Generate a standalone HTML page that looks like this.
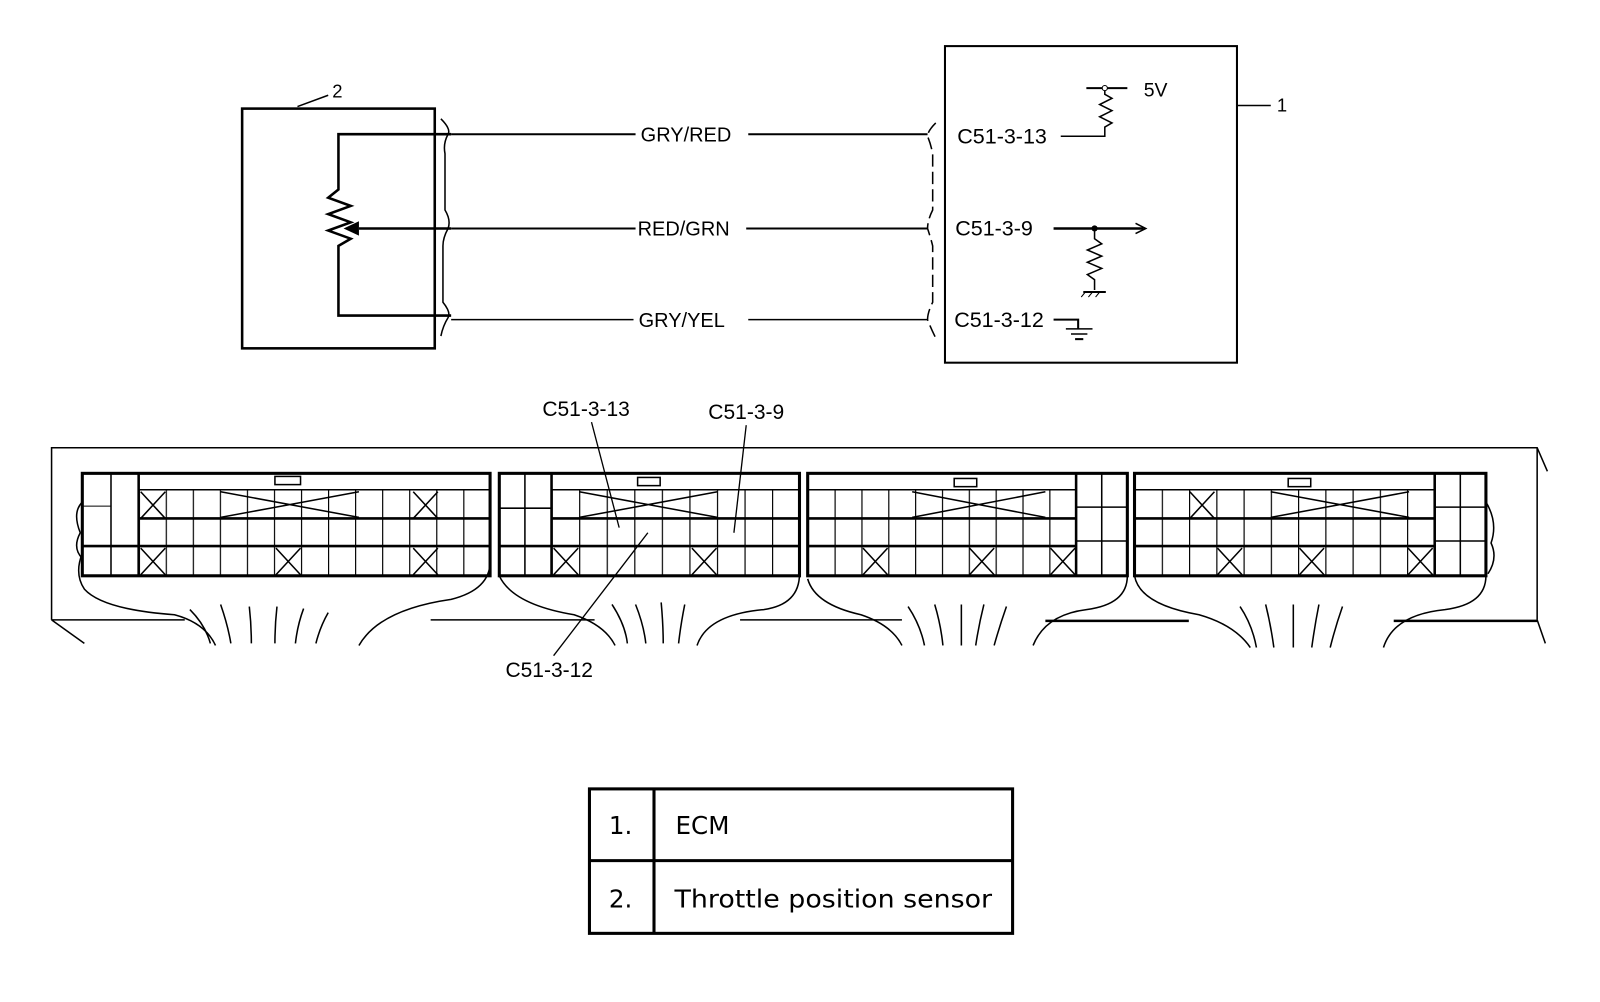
<!DOCTYPE html>
<html><head><meta charset="utf-8"><style>
html,body{margin:0;padding:0;background:#fff;}
svg{display:block;}
text{font-family:"Liberation Sans",Arial,sans-serif;fill:#000;}
.t{font-family:"DejaVu Sans",Verdana,sans-serif;}
</style></head><body>
<svg width="1600" height="1002" viewBox="0 0 1561 978" xmlns="http://www.w3.org/2000/svg">
<defs>
<pattern id="g1" x="135" y="0" width="26.4" height="10" patternUnits="userSpaceOnUse"><line x1="0.5" y1="0" x2="0.5" y2="10" stroke="#000" stroke-width="1.3"/></pattern>
<pattern id="g2" x="538" y="0" width="26.9" height="10" patternUnits="userSpaceOnUse"><line x1="0.5" y1="0" x2="0.5" y2="10" stroke="#000" stroke-width="1.3"/></pattern>
<pattern id="g3" x="788" y="0" width="26.2" height="10" patternUnits="userSpaceOnUse"><line x1="0.5" y1="0" x2="0.5" y2="10" stroke="#000" stroke-width="1.3"/></pattern>
<pattern id="g4" x="1107" y="0" width="26.6" height="10" patternUnits="userSpaceOnUse"><line x1="0.5" y1="0" x2="0.5" y2="10" stroke="#000" stroke-width="1.3"/></pattern>
</defs>
<g fill="none" stroke="#000" stroke-width="2">
<rect x="236" y="106" width="188" height="234" stroke-width="2.5"/>
<line x1="290" y1="104" x2="320" y2="93" stroke-width="1.5"/>
<polyline points="440,131 330,131 330,185 320,193 342,201 320,209 342,217 320,225 342,233 330,240 330,308 440,308" stroke-width="2.5"/>
<line x1="350" y1="223" x2="440" y2="223" stroke-width="2.5"/>
<path d="M430,116 Q440,126 437,131 Q432,140 434,150 L434,205 Q440,215 437,223 Q432,232 432,240 L432,295 Q440,305 437,310 Q432,318 430,328" stroke-width="1.5"/>
<line x1="440" y1="131" x2="620" y2="131"/><line x1="730" y1="131" x2="905" y2="131"/>
<line x1="440" y1="223" x2="620" y2="223"/><line x1="728" y1="223" x2="905" y2="223"/>
<line x1="440" y1="312" x2="618" y2="312" stroke-width="1.5"/><line x1="730" y1="312" x2="905" y2="312" stroke-width="1.5"/>
<path d="M913,120 Q905,128 905,133 Q908,140 910,150 L910,205 Q905,215 905,223 Q908,232 910,240 L910,295 Q905,305 905,312 Q908,320 913,330" stroke-width="1.5" stroke-dasharray="12,5"/>
<rect x="922" y="45" width="285" height="309" stroke-width="2"/>
<line x1="1208" y1="103" x2="1240" y2="103" stroke-width="1.5"/>
<polyline points="1035,133 1078,133 1078,124 1085,120 1073,114 1085,108 1073,102 1085,96 1078,92 1078,86" stroke-width="1.5"/>
<line x1="1060" y1="86" x2="1100" y2="86" stroke-width="2"/>
<line x1="1028" y1="223" x2="1116" y2="223" stroke-width="2.5"/>
<polyline points="1108,218 1118,223 1108,228" stroke-width="1.5"/>
<polyline points="1068,223 1068,233 1075,238 1061,244 1075,250 1061,256 1075,262 1061,268 1068,273 1068,283" stroke-width="1.5"/>
<line x1="1057" y1="285" x2="1079" y2="285" stroke-width="2"/>
<path d="M1059,285 l-4,5 M1066,285 l-4,5 M1073,285 l-4,5" stroke-width="1"/>
<polyline points="1028,312 1052,312 1052,321" stroke-width="2"/>
<line x1="1040" y1="321" x2="1066" y2="321" stroke-width="1.5"/>
<line x1="1045" y1="326" x2="1061" y2="326" stroke-width="1.5"/>
<line x1="1049" y1="331" x2="1057" y2="331" stroke-width="2"/>
</g>
<polygon points="335,223 350,216 350,230" fill="#000"/>
<circle cx="1078" cy="86" r="2.5" fill="#fff" stroke="#000" stroke-width="1"/>
<circle cx="1068" cy="223" r="3" fill="#000"/>
<text x="324" y="95" font-size="18">2</text>
<text x="1246" y="109" font-size="18">1</text>
<text x="1116" y="94" font-size="19">5V</text>
<text x="625" y="138" font-size="19.5">GRY/RED</text>
<text x="622" y="230" font-size="19.5">RED/GRN</text>
<text x="623" y="319" font-size="19.5">GRY/YEL</text>
<text x="934" y="140" font-size="21">C51-3-13</text>
<text x="932" y="230" font-size="21">C51-3-9</text>
<text x="931" y="319" font-size="21">C51-3-12</text>

<g fill="none" stroke="#000" stroke-width="1.5">
<polyline points="50,605 50,437 1500,437 1510,460"/>
<line x1="1500" y1="437" x2="1500" y2="605"/>
<line x1="1500" y1="605" x2="1508" y2="628"/>
<line x1="50" y1="605" x2="82" y2="628"/>
<line x1="50" y1="605" x2="180" y2="605"/>
<line x1="420" y1="605" x2="580" y2="605"/>
<line x1="722" y1="605" x2="880" y2="605"/>
<line x1="1020" y1="606" x2="1160" y2="606" stroke-width="2.5"/>
<line x1="1360" y1="606" x2="1500" y2="606" stroke-width="2.5"/>
<path d="M80,540 Q72,560 82,575 Q100,595 170,600 Q200,608 210,630"/>
<path d="M478,545 Q480,575 440,585 Q370,595 350,630"/>
<path d="M487,562 Q500,590 560,600 Q590,610 600,630"/>
<path d="M780,560 Q780,590 745,595 Q690,600 680,630"/>
<path d="M788,565 Q795,590 840,600 Q870,610 880,630"/>
<path d="M1100,562 Q1100,590 1060,595 Q1020,600 1008,630"/>
<path d="M1107,562 Q1112,590 1170,600 Q1205,610 1220,632"/>
<path d="M1450,562 Q1450,590 1410,595 Q1360,600 1350,632"/>
<path d="M80,490 Q70,500 78,520 Q70,535 80,545"/>
<path d="M1450,490 Q1462,510 1455,530 Q1462,545 1452,560"/>
<path d="M185,595 Q200,610 205,628 M215,590 Q222,610 225,628 M243,592 Q245,610 245,628 M270,592 Q268,610 268,628 M296,594 Q290,610 288,628 M320,598 Q312,612 308,628"/>
<path d="M597,590 Q610,610 612,628 M620,590 Q628,610 630,628 M645,588 Q647,610 647,628 M668,590 Q664,610 662,628"/>
<path d="M886,592 Q898,610 902,630 M912,590 Q918,610 920,630 M938,590 Q938,610 938,630 M960,590 Q955,610 952,630 M982,592 Q975,612 970,630"/>
<path d="M1210,592 Q1222,610 1226,632 M1235,590 Q1240,610 1243,632 M1262,590 Q1262,610 1262,632 M1287,590 Q1283,610 1280,632 M1310,592 Q1303,612 1298,632"/>
</g>

<rect x="135" y="478" width="343" height="84" fill="url(#g1)"/>
<g fill="none" stroke="#000">
<rect x="80" y="462" width="398" height="100" stroke-width="3"/>
<line x1="108" y1="462" x2="108" y2="562" stroke-width="1.5"/>
<line x1="135" y1="462" x2="135" y2="562" stroke-width="2.5"/>
<line x1="135" y1="478" x2="478" y2="478" stroke-width="1.5"/>
<line x1="135" y1="506" x2="478" y2="506" stroke-width="2.5"/>
<line x1="80" y1="533" x2="478" y2="533" stroke-width="2.5"/>
<line x1="80" y1="494" x2="108" y2="494" stroke-width="1"/>
<rect x="268" y="465" width="25" height="8" stroke-width="1.5"/>
<path d="M137,480 l24,26 M161,480 l-24,26 M403,480 l24,26 M427,480 l-24,26 M137,535 l24,26 M161,535 l-24,26 M269,535 l24,26 M293,535 l-24,26 M403,535 l24,26 M427,535 l-24,26 M215,480 L350,505 M215,505 L350,480" stroke-width="1.5"/>
</g>
<rect x="538" y="478" width="242" height="84" fill="url(#g2)"/>
<g fill="none" stroke="#000">
<rect x="487" y="462" width="293" height="100" stroke-width="3"/>
<line x1="512" y1="462" x2="512" y2="562" stroke-width="1.5"/>
<line x1="538" y1="462" x2="538" y2="562" stroke-width="2.5"/>
<line x1="538" y1="478" x2="780" y2="478" stroke-width="1.5"/>
<line x1="538" y1="506" x2="780" y2="506" stroke-width="2.5"/>
<line x1="487" y1="533" x2="780" y2="533" stroke-width="2.5"/>
<line x1="487" y1="496" x2="538" y2="496" stroke-width="1.5"/>
<rect x="622" y="466" width="22" height="8" stroke-width="1.5"/>
<path d="M540,535 l24,26 M564,535 l-24,26 M675,535 l24,26 M699,535 l-24,26 M565,480 L700,505 M565,505 L700,480" stroke-width="1.5"/>
</g>
<rect x="788" y="478" width="262" height="84" fill="url(#g3)"/>
<g fill="none" stroke="#000">
<rect x="788" y="462" width="312" height="100" stroke-width="3"/>
<line x1="1075" y1="462" x2="1075" y2="562" stroke-width="1.5"/>
<line x1="1050" y1="462" x2="1050" y2="562" stroke-width="2.5"/>
<line x1="788" y1="478" x2="1050" y2="478" stroke-width="1.5"/>
<line x1="788" y1="506" x2="1050" y2="506" stroke-width="2.5"/>
<line x1="788" y1="533" x2="1050" y2="533" stroke-width="2.5"/>
<line x1="1050" y1="495" x2="1100" y2="495" stroke-width="1.5"/>
<line x1="1050" y1="528" x2="1100" y2="528" stroke-width="1.5"/>
<rect x="931" y="467" width="22" height="8" stroke-width="1.5"/>
<path d="M842,535 l24,26 M866,535 l-24,26 M946,535 l24,26 M970,535 l-24,26 M1025,535 l24,26 M1049,535 l-24,26 M890,480 L1020,505 M890,505 L1020,480" stroke-width="1.5"/>
</g>
<rect x="1107" y="478" width="293" height="84" fill="url(#g4)"/>
<g fill="none" stroke="#000">
<rect x="1107" y="462" width="343" height="100" stroke-width="3"/>
<line x1="1425" y1="462" x2="1425" y2="562" stroke-width="1.5"/>
<line x1="1400" y1="462" x2="1400" y2="562" stroke-width="2.5"/>
<line x1="1107" y1="478" x2="1400" y2="478" stroke-width="1.5"/>
<line x1="1107" y1="506" x2="1400" y2="506" stroke-width="2.5"/>
<line x1="1107" y1="533" x2="1400" y2="533" stroke-width="2.5"/>
<line x1="1400" y1="495" x2="1450" y2="495" stroke-width="1.5"/>
<line x1="1400" y1="528" x2="1450" y2="528" stroke-width="1.5"/>
<rect x="1257" y="467" width="22" height="8" stroke-width="1.5"/>
<path d="M1161,480 l24,26 M1185,480 l-24,26 M1188,535 l24,26 M1212,535 l-24,26 M1268,535 l24,26 M1292,535 l-24,26 M1374,535 l24,26 M1398,535 l-24,26 M1240,480 L1375,505 M1240,505 L1375,480" stroke-width="1.5"/>
</g>
<g stroke="#000" stroke-width="1.3" fill="none">
<line x1="577" y1="412" x2="604" y2="515"/>
<line x1="728" y1="415" x2="716" y2="520"/>
<line x1="632" y1="520" x2="540" y2="640"/>
</g>
<text x="529" y="406" font-size="20.5">C51-3-13</text>
<text x="691" y="409" font-size="20.5">C51-3-9</text>
<text x="493" y="661" font-size="20.5">C51-3-12</text>

<g fill="none" stroke="#000" stroke-width="3">
<rect x="575" y="770" width="413" height="141"/>
<line x1="638" y1="770" x2="638" y2="911"/>
<line x1="575" y1="840" x2="988" y2="840"/>
</g>
<text class="t" x="594" y="814" font-size="24">1.</text>
<text class="t" x="659" y="814" font-size="24">ECM</text>
<text class="t" x="594" y="886" font-size="24">2.</text>
<text class="t" x="658" y="886" font-size="24" textLength="310" lengthAdjust="spacingAndGlyphs">Throttle position sensor</text>
</svg>
</body></html>
